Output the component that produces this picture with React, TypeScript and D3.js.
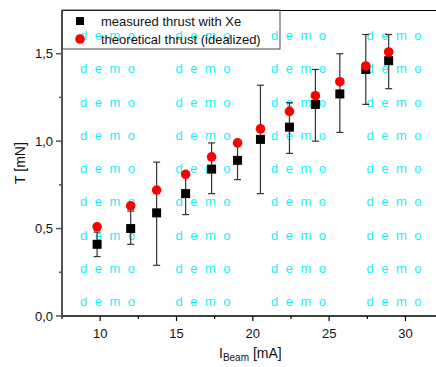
import React from 'react';
import * as d3 from 'd3';

// beam current [mA]
const beamCurrent = [9.8, 12.0, 13.7, 15.6, 17.3, 19.0, 20.5, 22.4, 24.1, 25.7, 27.4, 28.9];
// measured thrust with Xe [mN]
const measured = [0.41, 0.5, 0.59, 0.7, 0.84, 0.89, 1.01, 1.08, 1.21, 1.27, 1.41, 1.46];
const errLow = [0.34, 0.41, 0.29, 0.58, 0.7, 0.78, 0.7, 0.93, 1.0, 1.05, 1.21, 1.3];
const errHigh = [0.48, 0.6, 0.88, 0.82, 0.99, 0.99, 1.32, 1.22, 1.41, 1.5, 1.61, 1.61];
// theoretical thrust (idealized) [mN]
const theoretical = [0.51, 0.63, 0.72, 0.81, 0.91, 0.99, 1.07, 1.17, 1.26, 1.34, 1.43, 1.51];

const xTicks = [10, 15, 20, 25, 30];
const yTicks = [0, 0.5, 1.0, 1.5];

const W = 436, H = 367;
const margin = { top: 10, right: 0, bottom: 51, left: 62 };
const font = '"Liberation Sans", Arial, sans-serif';

export default function App() {
  const x = d3.scaleLinear().domain([7.5, 32]).range([margin.left, W - margin.right]);
  const y = d3.scaleLinear().domain([0, 1.75]).range([H - margin.bottom, margin.top]);
  const fmt = (v: number) => d3.format('.1f')(v).replace('.', ',');
  const xMinor = d3.range(7.5, 32, 2.5).filter(v => !xTicks.includes(v));
  const yMinor = [0.25, 0.75, 1.25];
  const bottom = y(0);

  // "demo" watermark grid
  const wmCols = [80, 175.5, 271, 366.5];
  const wmRows = d3.range(9).map(i => 40 + i * 33.25);

  const pts = beamCurrent.map((c, i) => ({ c, m: measured[i], lo: errLow[i], hi: errHigh[i], t: theoretical[i] }));

  return (
    <svg width={W} height={H} style={{ position: 'absolute', left: 0, top: 0, background: '#fff' }} fontFamily={font}>
      {wmRows.map((ry, ri) => wmCols.map((cx, ci) => (
        <text key={`${ri}-${ci}`} x={cx} y={ry} fill="#19f0f5" fontSize={13} textLength={55} lengthAdjust="spacing">d e m o</text>
      )))}

      {/* frame */}
      <line x1={margin.left} x2={W} y1={margin.top + 0.5} y2={margin.top + 0.5} stroke="#000" strokeWidth={1.2} />
      <line x1={margin.left} x2={W} y1={bottom} y2={bottom} stroke="#000" strokeWidth={1.6} />
      <line x1={margin.left} x2={margin.left} y1={margin.top} y2={bottom} stroke="#555" strokeWidth={2} />

      {/* y axis */}
      {yTicks.map(t => (
        <g key={t}>
          <line x1={margin.left - 6} x2={margin.left} y1={y(t)} y2={y(t)} stroke="#555" strokeWidth={1.5} />
          <text x={margin.left - 9} y={y(t)} dy="0.35em" textAnchor="end" fontSize={13} fill="#111">{fmt(t)}</text>
        </g>
      ))}
      {yMinor.map(t => (
        <line key={t} x1={margin.left - 3} x2={margin.left} y1={y(t)} y2={y(t)} stroke="#555" strokeWidth={1.5} />
      ))}

      {/* x axis */}
      {xTicks.map(t => (
        <g key={t}>
          <line x1={x(t)} x2={x(t)} y1={bottom} y2={bottom + 5} stroke="#000" strokeWidth={1.2} />
          <text x={x(t)} y={bottom + 22} textAnchor="middle" fontSize={13} fill="#111">{t}</text>
        </g>
      ))}
      {xMinor.map(t => (
        <line key={t} x1={x(t)} x2={x(t)} y1={bottom} y2={bottom + 3} stroke="#000" strokeWidth={1.2} />
      ))}

      {/* axis titles */}
      <text transform={`translate(25,${(margin.top + bottom) / 2}) rotate(-90)`} textAnchor="middle" fontSize={14} fill="#111">T [mN]</text>
      <text x={219} y={358} fontSize={14} fill="#111">
        I<tspan fontSize={10} dy={3}>Beam</tspan><tspan dy={-3}> [mA]</tspan>
      </text>

      {/* error bars */}
      {pts.map((p, i) => (
        <g key={i} stroke="#333" strokeWidth={1.2}>
          <line x1={x(p.c)} x2={x(p.c)} y1={y(p.lo)} y2={y(p.hi)} />
          <line x1={x(p.c) - 3.5} x2={x(p.c) + 3.5} y1={y(p.lo)} y2={y(p.lo)} />
          <line x1={x(p.c) - 3.5} x2={x(p.c) + 3.5} y1={y(p.hi)} y2={y(p.hi)} />
        </g>
      ))}
      {/* measured */}
      {pts.map((p, i) => (
        <rect key={i} x={x(p.c) - 4.5} y={y(p.m) - 4.5} width={9} height={9} fill="#000" />
      ))}
      {/* theoretical */}
      {pts.map((p, i) => (
        <circle key={i} cx={x(p.c)} cy={y(p.t)} r={4.8} fill="#f00" />
      ))}

      {/* legend */}
      <rect x={margin.left} y={margin.top} width={218} height={39} fill="none" stroke="#444" strokeWidth={1} />
      <rect x={76} y={17} width={8} height={8} fill="#000" />
      <text x={101} y={26} fontSize={13} fill="#111">measured thrust with Xe</text>
      <circle cx={80} cy={39} r={4.8} fill="#f00" />
      <text x={101} y={44} fontSize={13} fill="#111">theoretical thrust (idealized)</text>
    </svg>
  );
}
